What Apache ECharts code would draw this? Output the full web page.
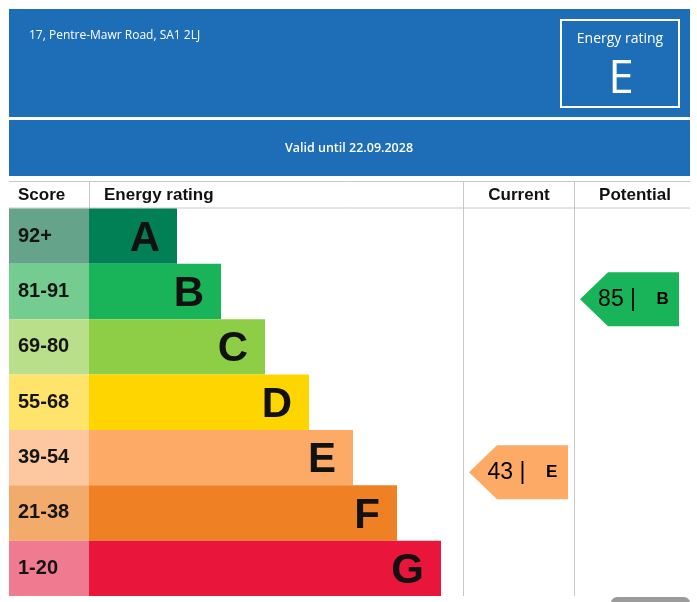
<!DOCTYPE html>
<html>
<head>
<meta charset="utf-8">
<script src="https://cdn.jsdelivr.net/npm/echarts@6/dist/echarts.min.js"></script>
<style>html,body{margin:0;padding:0;background:#fff;}#c{width:697px;height:602px;}</style>
</head>
<body>
<div id="c"></div>
<script>
// ---- data ----
var address = '17, Pentre-Mawr Road, SA1 2LJ';
var validUntil = 'Valid until 22.09.2028';
var currentRatingLetter = 'E';
var bands = ['A', 'B', 'C', 'D', 'E', 'F', 'G'];
var scoreRanges = ['92+', '81-91', '69-80', '55-68', '39-54', '21-38', '1-20'];
var barLevels = [2, 3, 4, 5, 6, 7, 8];
var bandColors = ['#008054', '#19b459', '#8dce46', '#ffd500', '#fcaa65', '#ef8023', '#e9153b'];
var scoreColors = ['#65a48a', '#75cc90', '#badf8b', '#ffe36b', '#fdc8a0', '#f3ab6b', '#f07a90'];
var columns = ['Current', 'Potential'];
var ratingScores = [43, 85];
var ratingLetters = ['E', 'B'];

var chart = echarts.init(document.getElementById('c'), null, {renderer: 'canvas'});

var tableTop = 208.5, tableH = 387.5;
var ARIAL = 'Liberation Sans';
var OPEN = 'Open Sans';
var LINE = '#c8c8c8';
var BLUE = '#1e6eb7';

function colorOf(letter) { return bandColors[bands.indexOf(letter)]; }

var option = {
  animation: false,
  backgroundColor: '#ffffff',
  grid: [
    {left: 9, top: tableTop, width: 80, height: tableH},
    {left: 89, top: tableTop, width: 440, height: tableH},
    {left: 463, top: tableTop, width: 222, height: tableH}
  ],
  xAxis: [
    {gridIndex: 0, type: 'value', min: 0, max: 1, show: false},
    {gridIndex: 1, type: 'value', min: 0, max: 10, show: false},
    {gridIndex: 2, type: 'category', data: columns, show: false}
  ],
  yAxis: [
    {gridIndex: 0, type: 'category', data: scoreRanges, inverse: true, show: false},
    {gridIndex: 1, type: 'category', data: bands, inverse: true, show: false},
    {gridIndex: 2, type: 'value', min: 13, max: 107, show: false}
  ],
  series: [
    {
      type: 'bar', xAxisIndex: 0, yAxisIndex: 0, barCategoryGap: 0,
      data: scoreRanges.map(function (s, i) { return {value: 1, itemStyle: {color: scoreColors[i]}}; }),
      label: {show: true, position: 'insideLeft', distance: 9, offset: [0, 0], formatter: function (p) { return p.name; },
        fontFamily: ARIAL, fontWeight: 'bold', fontSize: 20, color: '#151515'},
      silent: true, z: 2
    },
    {
      type: 'bar', xAxisIndex: 1, yAxisIndex: 1, barCategoryGap: 0,
      data: barLevels.map(function (v, i) { return {value: v, itemStyle: {color: bandColors[i]}}; }),
      label: {show: true, position: 'insideRight', distance: 17, offset: [0, 3], formatter: function (p) { return p.name; },
        fontFamily: ARIAL, fontWeight: 'bold', fontSize: 42, color: '#111'},
      silent: true, z: 2
    },
    {
      type: 'custom', xAxisIndex: 2, yAxisIndex: 2, z: 5,
      data: ratingScores.map(function (s, i) { return [i, s, ratingLetters[i]]; }),
      renderItem: function (params, api) {
        var c = api.coord([api.value(0), api.value(1)]);
        var bw = api.size([1, 0])[0];
        var left = c[0] - bw / 2 + 6, right = c[0] + bw / 2 - 6;
        var h = 54, tip = 28, cy = c[1];
        var letter = ratingLetters[params.dataIndex];
        return {
          type: 'group',
          children: [
            {type: 'polygon', shape: {points: [[left, cy], [left + tip, cy - h / 2], [right, cy - h / 2], [right, cy + h / 2], [left + tip, cy + h / 2]]},
              style: {fill: colorOf(letter)}},
            {type: 'text', x: (left + right) / 2 + 4, y: cy,
              style: {text: '{n|' + api.value(1) + ' | }{l|   ' + letter + '}', align: 'center', verticalAlign: 'middle',
                rich: {
                  n: {fontFamily: ARIAL, fontSize: 23, color: '#111'},
                  l: {fontFamily: ARIAL, fontSize: 17, fontWeight: 'bold', color: '#111'}
                }}}
          ]
        };
      }
    }
  ],
  graphic: [
    {type: 'rect', shape: {x: 9, y: 9, width: 681, height: 108}, style: {fill: BLUE}, z: 0},
    {type: 'rect', shape: {x: 9, y: 120, width: 681, height: 56}, style: {fill: BLUE}, z: 0},
    {type: 'text', x: 29, y: 36, style: {text: address, fill: '#fff', fontFamily: OPEN, fontSize: 12, verticalAlign: 'middle'}, z: 1},
    {type: 'text', x: 349, y: 148, style: {text: validUntil, fill: '#fff', fontFamily: OPEN, fontWeight: 600, fontSize: 12.5, align: 'center', verticalAlign: 'middle'}, z: 1},
    {type: 'rect', shape: {x: 561, y: 20, width: 118, height: 87}, style: {fill: 'none', stroke: '#fff', lineWidth: 2}, z: 1},
    {type: 'text', x: 620, y: 39, style: {text: 'Energy rating', fill: '#fff', fontFamily: OPEN, fontSize: 14, align: 'center', verticalAlign: 'middle'}, z: 1},
    {type: 'text', x: 621, y: 80, style: {text: currentRatingLetter, fill: '#fff', fontFamily: OPEN, fontSize: 46, align: 'center', verticalAlign: 'middle'}, z: 1},
    // table lines
    {type: 'line', shape: {x1: 9, y1: 181.5, x2: 690, y2: 181.5}, style: {stroke: LINE, lineWidth: 1}, z: 1},
    {type: 'line', shape: {x1: 9, y1: 208, x2: 690, y2: 208}, style: {stroke: LINE, lineWidth: 1}, z: 1},
    {type: 'line', shape: {x1: 89.5, y1: 181, x2: 89.5, y2: 208}, style: {stroke: LINE, lineWidth: 1}, z: 1},
    {type: 'line', shape: {x1: 463.5, y1: 181, x2: 463.5, y2: 596}, style: {stroke: LINE, lineWidth: 1}, z: 1},
    {type: 'line', shape: {x1: 574.5, y1: 181, x2: 574.5, y2: 596}, style: {stroke: LINE, lineWidth: 1}, z: 1},
    {type: 'text', x: 18, y: 195, style: {text: 'Score', fill: '#111', fontFamily: ARIAL, fontWeight: 'bold', fontSize: 17, verticalAlign: 'middle'}, z: 1},
    {type: 'text', x: 104, y: 195, style: {text: 'Energy rating', fill: '#111', fontFamily: ARIAL, fontWeight: 'bold', fontSize: 17, verticalAlign: 'middle'}, z: 1},
    {type: 'text', x: 519, y: 195, style: {text: 'Current', fill: '#111', fontFamily: ARIAL, fontWeight: 'bold', fontSize: 17, align: 'center', verticalAlign: 'middle'}, z: 1},
    {type: 'text', x: 635, y: 195, style: {text: 'Potential', fill: '#111', fontFamily: ARIAL, fontWeight: 'bold', fontSize: 17, align: 'center', verticalAlign: 'middle'}, z: 1},
    {type: 'rect', shape: {x: 611, y: 597, width: 79, height: 14, r: 6}, style: {fill: '#9b9b9b'}, z: 1}
  ]
};
chart.setOption(option);
</script>
</body>
</html>
